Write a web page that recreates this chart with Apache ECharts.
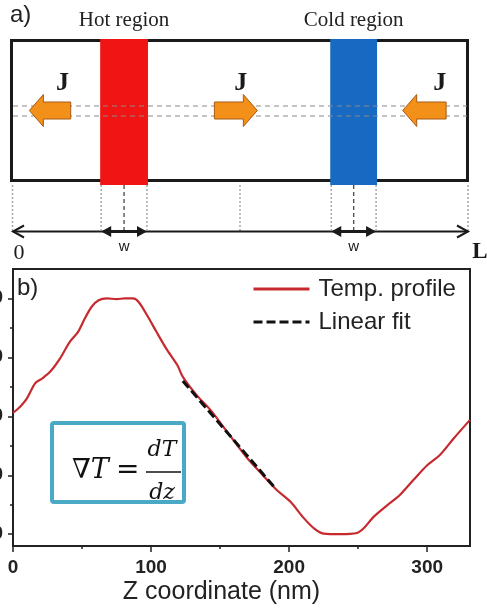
<!DOCTYPE html>
<html>
<head>
<meta charset="utf-8">
<script src="https://cdn.jsdelivr.net/npm/echarts@6/dist/echarts.min.js"></script>
<style>
  html, body { margin: 0; padding: 0; background: #fff; }
  #chart { width: 487px; height: 608px; }
</style>
</head>
<body>
<div id="chart"></div>
<script>
// ---- Wire layout along Z (nm) ----
const wireLength = 331;
const regionNames = ['Hot region', 'Cold region'];
const regionStart = [64, 231];
const regionEnd = [98.7, 265];
const currentTail = [42.6, 146.9, 315.1];
const currentTip = [12.6, 178.1, 283.6];
const currentLabelZ = [36.7, 166, 310.5];
const currentLabel = 'J';

// ---- Temperature profile along Z ----
const profileZ = [0, 5, 10, 16, 21, 27, 34, 41, 47, 52, 57, 62, 68, 75, 81, 87, 91, 97,
  104, 111, 119, 123, 133, 143, 155, 169, 181, 191, 201, 210, 218, 225, 237, 249, 254,
  261, 271, 280, 290, 300, 309, 319, 331];
const profileT = [20.6, 21.6, 23.0, 25.6, 26.4, 27.6, 29.8, 32.6, 34.3, 36.6, 38.6, 39.7,
  40.0, 39.9, 40.0, 40.0, 39.4, 37.2, 34.3, 31.5, 28.7, 26.7, 23.6, 21.1, 17.4, 13.1, 10.0,
  7.5, 5.5, 2.9, 1.0, 0.1, 0.0, 0.2, 1.0, 2.9, 4.9, 6.6, 9.2, 11.7, 13.4, 16.2, 19.4];
const fitZ = [123, 190];
const fitT = [26.0, 7.8];

// ---- Axis ticks ----
const zTicks = [0, 100, 200, 300];
const zMinorTicks = [50, 150, 250];
const tTicks = [0, 10, 20, 30, 40];
const tMinorTicks = [5, 15, 25, 35];

const INK = '#1a1a1a';
const regionColors = ['#f01414', '#1769c2'];
const arrowFill = '#f39019';
const arrowStroke = '#a75a12';
const SANS = '"Liberation Sans", Arial, sans-serif';
const SERIF = '"Liberation Serif", "Times New Roman", serif';

const chart = echarts.init(document.getElementById('chart'), null, { renderer: 'canvas' });

function xAt(api, z) { return api.coord([z, 0])[0]; }

// box, guides and the 0..L dimension line
function renderFrame(params, api) {
  const cs = params.coordSys;
  const top = cs.y, bottom = cs.y + cs.height;
  const x0 = xAt(api, api.value(0));
  const x1 = xAt(api, api.value(1));
  const xm = (x0 + x1) / 2;
  const baseY = bottom + 49.5;
  const guide = (x) => ({
    type: 'line',
    shape: { x1: x, y1: bottom + 3, x2: x, y2: baseY },
    style: { stroke: '#a0a0a0', lineWidth: 1.4, lineDash: [2, 2] }
  });
  return {
    type: 'group',
    children: [
      { type: 'rect', shape: { x: x0 - 0.5, y: top + 1.5, width: x1 - x0, height: cs.height - 3 },
        style: { fill: 'none', stroke: INK, lineWidth: 3 } },
      guide(x0 + 0.5), guide(xm), guide(x1),
      { type: 'line', shape: { x1: x0 + 1, y1: baseY, x2: x1, y2: baseY },
        style: { stroke: INK, lineWidth: 2 } },
      { type: 'polyline', shape: { points: [[x0 + 12, baseY - 6], [x0 + 1, baseY], [x0 + 12, baseY + 6]] },
        style: { stroke: INK, lineWidth: 2, fill: 'none' } },
      { type: 'polyline', shape: { points: [[x1 - 11, baseY - 6], [x1, baseY], [x1 - 11, baseY + 6]] },
        style: { stroke: INK, lineWidth: 2, fill: 'none' } },
      { type: 'text', style: { text: '0', x: x0 + 7, y: bottom + 71, align: 'center', verticalAlign: 'middle',
        font: '22px ' + SERIF, fill: INK } },
      { type: 'text', style: { text: 'L', x: x1 + 12, y: bottom + 70, align: 'center', verticalAlign: 'middle',
        font: 'bold 23px ' + SERIF, fill: INK } }
    ]
  };
}

// heated / cooled strips with their width markers
function renderRegion(params, api) {
  const cs = params.coordSys;
  const top = cs.y, bottom = cs.y + cs.height;
  const x0 = xAt(api, api.value(0));
  const x1 = xAt(api, api.value(1));
  const xm = (x0 + x1) / 2;
  const idx = api.value(2);
  const baseY = bottom + 49.5;
  const guide = (x, dash, color) => ({
    type: 'line',
    shape: { x1: x, y1: bottom + 3, x2: x, y2: baseY },
    style: { stroke: color, lineWidth: 1.4, lineDash: dash }
  });
  return {
    type: 'group',
    children: [
      { type: 'rect', shape: { x: x0, y: top, width: x1 - x0, height: cs.height + 3 },
        style: { fill: regionColors[idx] } },
      guide(x0 + 1, [2, 2], '#a0a0a0'),
      guide(x1 - 1, [2, 2], '#a0a0a0'),
      guide(xm, [4, 3], '#555'),
      { type: 'line', shape: { x1: x0 + 8, y1: baseY, x2: x1 - 8, y2: baseY },
        style: { stroke: INK, lineWidth: 3 } },
      { type: 'polygon', shape: { points: [[x0 + 1, baseY], [x0 + 11, baseY - 5.5], [x0 + 11, baseY + 5.5]] },
        style: { fill: INK } },
      { type: 'polygon', shape: { points: [[x1 - 1, baseY], [x1 - 11, baseY - 5.5], [x1 - 11, baseY + 5.5]] },
        style: { fill: INK } },
      { type: 'text', style: { text: 'w', x: xm, y: bottom + 65, align: 'center', verticalAlign: 'middle',
        font: '15px ' + SANS, fill: INK } },
      { type: 'text', style: { text: regionNames[idx], x: xm, y: top - 19, align: 'center', verticalAlign: 'middle',
        font: '21px ' + SERIF, fill: '#222' } }
    ]
  };
}

// the two dashed centre guides through the wire
function renderAxisGuides(params, api) {
  const cs = params.coordSys;
  const top = cs.y;
  const x0 = xAt(api, api.value(0));
  const x1 = xAt(api, api.value(1));
  const mk = (y) => ({
    type: 'line', shape: { x1: x0 + 1, y1: y, x2: x1 - 1, y2: y },
    style: { stroke: '#8a8a8a', lineWidth: 1, lineDash: [5, 4] }
  });
  return { type: 'group', children: [mk(top + 67), mk(top + 77)] };
}

// current-density arrows
function renderCurrent(params, api) {
  const cs = params.coordSys;
  const top = cs.y;
  const xt = xAt(api, api.value(0));
  const xp = xAt(api, api.value(1));
  const xl = xAt(api, api.value(2));
  const dir = xp > xt ? 1 : -1;
  const cy = top + 71.5;
  const hb = xp - dir * 14;
  return {
    type: 'group',
    children: [
      { type: 'polygon',
        shape: { points: [[xt, cy - 8.5], [hb, cy - 8.5], [hb, cy - 16], [xp, cy], [hb, cy + 16], [hb, cy + 8.5], [xt, cy + 8.5]] },
        style: { fill: arrowFill, stroke: arrowStroke, lineWidth: 1 } },
      { type: 'text', style: { text: currentLabel, x: xl, y: top + 44, align: 'center', verticalAlign: 'middle',
        font: 'bold 26px ' + SERIF, fill: INK } }
    ]
  };
}

const option = {
  animation: false,
  backgroundColor: '#fff',
  grid: [
    { left: 12, right: 19, top: 39, height: 143, show: false, outerBoundsMode: 'none' },
    { left: 13, right: 17, top: 269, bottom: 62, show: true, borderColor: '#222', borderWidth: 2,
      outerBoundsMode: 'none', containLabel: false }
  ],
  xAxis: [
    { gridIndex: 0, type: 'value', min: 0, max: wireLength, show: false },
    { gridIndex: 1, type: 'value', min: 0, max: wireLength, position: 'bottom',
      axisLine: { show: true, onZero: false, lineStyle: { color: '#222', width: 2 } },
      axisTick: { show: true, customValues: zTicks, length: 6, lineStyle: { color: '#222', width: 1.5 } },
      axisLabel: { customValues: zTicks, margin: 12, fontSize: 19, fontWeight: 'bold', color: '#222', fontFamily: SANS },
      splitLine: { show: false },
      name: 'Z coordinate (nm)', nameLocation: 'middle', nameGap: 34,
      nameTextStyle: { fontSize: 25, color: '#222', fontFamily: SANS, padding: [0, 40, 0, 0] } },
    { gridIndex: 1, type: 'value', min: 0, max: wireLength, position: 'bottom', offset: 0,
      axisLine: { show: false, onZero: false },
      axisTick: { show: true, customValues: zMinorTicks, length: 3, lineStyle: { color: '#222', width: 1.5 } },
      axisLabel: { show: false }, splitLine: { show: false } }
  ],
  yAxis: [
    { gridIndex: 0, type: 'value', min: 0, max: 1, show: false },
    { gridIndex: 1, type: 'value', min: -2, max: 45, position: 'left',
      axisLine: { show: true, onZero: false, lineStyle: { color: '#222', width: 2 } },
      axisTick: { show: true, customValues: tTicks, length: 5, lineStyle: { color: '#222', width: 1.5 } },
      axisLabel: { customValues: tTicks, margin: 10, fontSize: 18, fontWeight: 'bold', color: '#222', fontFamily: SANS },
      splitLine: { show: false } },
    { gridIndex: 1, type: 'value', min: -2, max: 45, position: 'left', offset: 0,
      axisLine: { show: false, onZero: false },
      axisTick: { show: true, customValues: tMinorTicks, length: 3, lineStyle: { color: '#222', width: 1.5 } },
      axisLabel: { show: false }, splitLine: { show: false } }
  ],
  legend: {
    data: ['Temp. profile', 'Linear fit'],
    orient: 'vertical', left: 252, top: 277,
    itemWidth: 56, itemHeight: 14, itemGap: 9, padding: 0,
    itemStyle: { opacity: 0 },
    lineStyle: { width: 3 },
    textStyle: { fontSize: 24, color: '#222', fontFamily: SANS, padding: [0, 0, 0, 4] }
  },
  series: [
    { type: 'custom', name: 'wire', xAxisIndex: 0, yAxisIndex: 0, clip: false, z: 1, silent: true,
      renderItem: renderFrame, data: [[0, wireLength]] },
    { type: 'custom', name: 'regions', xAxisIndex: 0, yAxisIndex: 0, clip: false, z: 2, silent: true,
      renderItem: renderRegion, data: regionNames.map((n, i) => [regionStart[i], regionEnd[i], i]) },
    { type: 'custom', name: 'guides', xAxisIndex: 0, yAxisIndex: 0, clip: false, z: 3, silent: true,
      renderItem: renderAxisGuides, data: [[0, wireLength]] },
    { type: 'custom', name: 'current', xAxisIndex: 0, yAxisIndex: 0, clip: false, z: 4, silent: true,
      renderItem: renderCurrent, data: currentTail.map((t, i) => [t, currentTip[i], currentLabelZ[i]]) },
    { type: 'line', name: 'Temp. profile', xAxisIndex: 1, yAxisIndex: 1, z: 5,
      data: profileZ.map((z, i) => [z, profileT[i]]), smooth: 0.3, symbol: 'none',
      itemStyle: { color: '#c62a2f' }, lineStyle: { color: '#c62a2f', width: 2.2 } },
    { type: 'line', name: 'Linear fit', xAxisIndex: 1, yAxisIndex: 1, z: 6,
      data: fitZ.map((z, i) => [z, fitT[i]]), symbol: 'none',
      itemStyle: { color: '#111' }, lineStyle: { color: '#111', width: 3, type: [9, 4] } }
  ],
  graphic: [
    { type: 'text', left: 10, top: 3, style: { text: 'a)', font: '24px ' + SANS, fill: '#222' } },
    { type: 'text', left: 17, top: 276, z: 10, style: { text: 'b)', font: '24px ' + SANS, fill: '#222' } },
    { type: 'group', left: 50, top: 421, z: 20, children: [
      { type: 'rect', shape: { x: 2, y: 2, width: 132, height: 79, r: 2 },
        style: { fill: '#fff', stroke: '#4aaac6', lineWidth: 4 } },
      { type: 'text', style: { text: '\u2207T', x: 22, y: 50, verticalAlign: 'middle',
        font: 'italic 27px "DejaVu Serif", serif', fill: '#111' } },
      { type: 'text', style: { text: '=', x: 66, y: 50, verticalAlign: 'middle',
        font: '28px "DejaVu Serif", serif', fill: '#111' } },
      { type: 'line', shape: { x1: 96, y1: 51, x2: 131, y2: 51 }, style: { stroke: '#111', lineWidth: 1.5 } },
      { type: 'text', style: { text: 'dT', x: 112, y: 29, align: 'center', verticalAlign: 'middle',
        font: 'italic 22px "DejaVu Serif", serif', fill: '#111' } },
      { type: 'text', style: { text: 'dz', x: 112, y: 72, align: 'center', verticalAlign: 'middle',
        font: 'italic 22px "DejaVu Serif", serif', fill: '#111' } }
    ] }
  ]
};

chart.setOption(option);
</script>
</body>
</html>
